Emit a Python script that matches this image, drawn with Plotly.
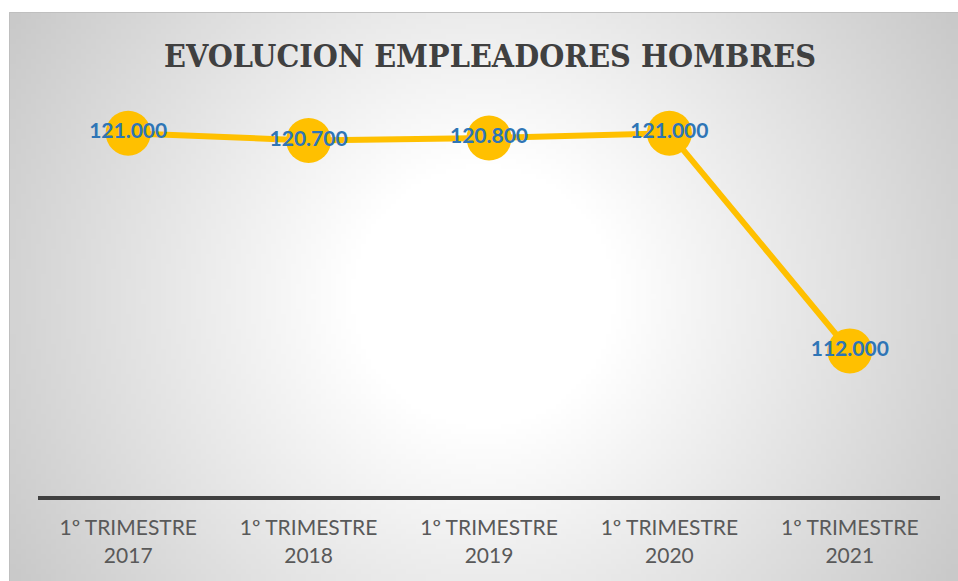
import base64, struct, zlib
import plotly.graph_objects as go

categories = ["1º TRIMESTRE<br>2017", "1º TRIMESTRE<br>2018", "1º TRIMESTRE<br>2019",
              "1º TRIMESTRE<br>2020", "1º TRIMESTRE<br>2021"]
values = [121000, 120700, 120800, 121000, 112000]
labels = ["121.000", "120.700", "120.800", "121.000", "112.000"]

W, H = 958, 581
L, R, T, B = 38, 18, 109, 85
BOX = (9, 12, 958, 581)  # chart box in figure pixels


def radial_png(w, h, box_w, box_h, cx, cy):
    rows = []
    for j in range(h):
        row = bytearray([0])
        py = (j + 0.5) / h * box_h
        for i in range(w):
            px = (i + 0.5) / w * box_w
            r = ((px - cx) ** 2 + (py - cy) ** 2) ** 0.5
            t = max(0.0, min(1.0, (r - 130) / 440))
            v = int(round(255 - 57 * t))
            row += bytes([v, v, v])
        rows.append(bytes(row))
    raw = b"".join(rows)

    def chunk(tag, data):
        c = struct.pack(">I", len(data)) + tag + data
        return c + struct.pack(">I", zlib.crc32(tag + data) & 0xffffffff)

    png = b"\x89PNG\r\n\x1a\n"
    png += chunk(b"IHDR", struct.pack(">IIBBBBB", w, h, 8, 2, 0, 0, 0))
    png += chunk(b"IDAT", zlib.compress(raw, 9))
    png += chunk(b"IEND", b"")
    return "data:image/png;base64," + base64.b64encode(png).decode()


bw, bh = BOX[2] - BOX[0], BOX[3] - BOX[1]
img = radial_png(190, 114, bw, bh, bw / 2, bh / 2)

pw, ph = W - L - R, H - T - B


def px2x(px):
    return (px - L) / pw


def py2y(py):
    return (H - B - py) / ph


fig = go.Figure()
fig.add_trace(go.Scatter(
    x=categories, y=values, mode="lines+markers+text",
    line=dict(color="#FFC000", width=6),
    marker=dict(size=45, color="#FFC000"),
    text=labels, textposition="middle center",
    textfont=dict(family="Lato", size=21, color="#2E75B6", weight="bold"),
    cliponaxis=False, hoverinfo="skip", showlegend=False,
))

fig.update_layout(
    width=W, height=H,
    margin=dict(l=L, r=R, t=T, b=B),
    paper_bgcolor="white", plot_bgcolor="rgba(0,0,0,0)",
    title=dict(text="<b>EVOLUCION EMPLEADORES HOMBRES</b>",
               font=dict(family="DejaVu Serif Condensed, DejaVu Serif", size=32, color="#404040"),
               x=490 / W, xanchor="center", xref="container",
               y=1 - 56 / H, yanchor="middle", yref="container"),
    xaxis=dict(showgrid=False, zeroline=False, showline=True, linecolor="#404040", linewidth=4,
               ticks="", tickfont=dict(family="Lato", size=21, color="#595959"),
               ticklabelstandoff=10,
               range=[-0.5, 4.5], fixedrange=True),
    yaxis=dict(range=[106000, 122000], showgrid=False, zeroline=False, showline=False,
               showticklabels=False, ticks="", fixedrange=True),
    images=[dict(source=img, xref="paper", yref="paper",
                 x=px2x(BOX[0]), y=py2y(BOX[1]),
                 sizex=px2x(BOX[2]) - px2x(BOX[0]), sizey=py2y(BOX[1]) - py2y(BOX[3]),
                 xanchor="left", yanchor="top", sizing="stretch", layer="below")],
    shapes=[dict(type="rect", xref="paper", yref="paper",
                 x0=px2x(BOX[0] + 0.5), x1=px2x(BOX[2] + 2), y0=py2y(BOX[3] + 2), y1=py2y(BOX[1] + 0.5),
                 line=dict(color="#BFBFBF", width=1), fillcolor="rgba(0,0,0,0)", layer="below")],
)

fig.write_html("out.html", config={"displayModeBar": False},
               post_script="document.body.style.margin='0';document.body.style.overflow='hidden';")
